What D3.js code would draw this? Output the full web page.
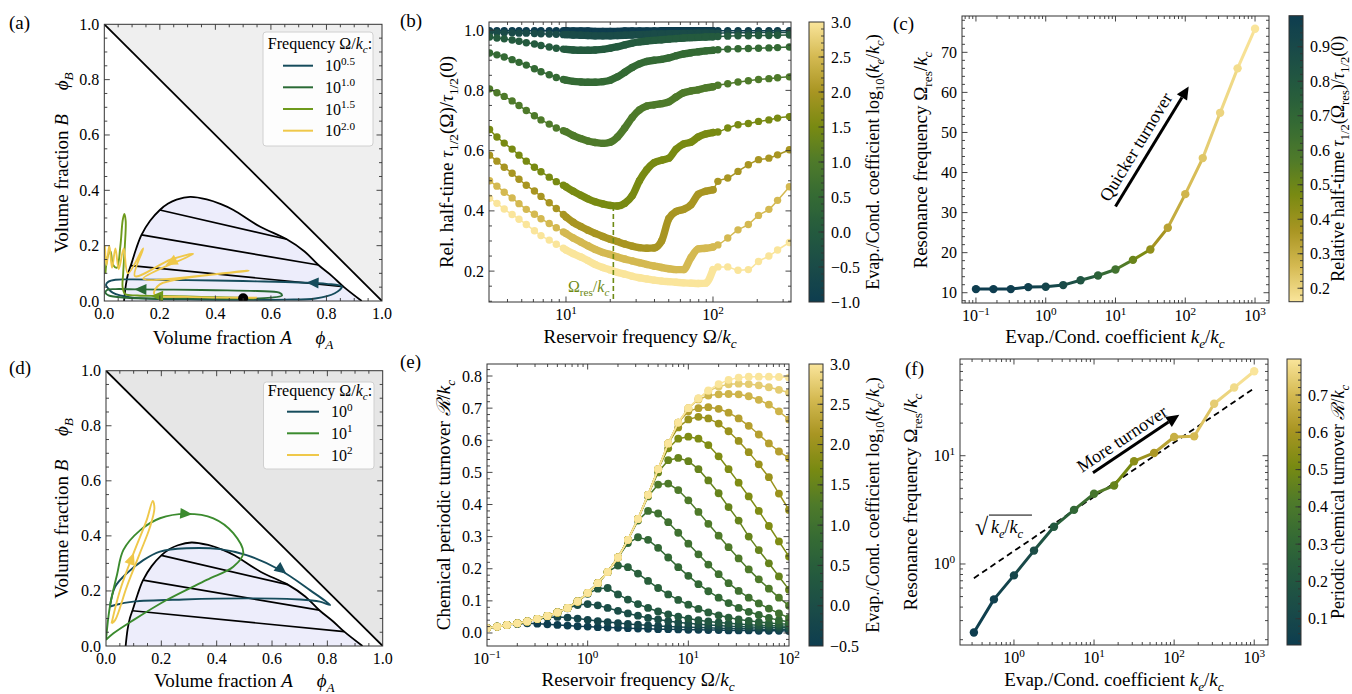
<!DOCTYPE html>
<html>
<head>
<meta charset="utf-8">
<title>Reservoir frequency figure</title>
<script src="https://cdn.jsdelivr.net/npm/d3@7"></script>
<style>
  body { margin: 0; background: #fff; }
  svg { font-family: "Liberation Serif", "Times New Roman", serif; }
</style>
</head>
<body>
<svg id="fig" width="1352" height="694"></svg>
<script>
// ---------------- data ----------------

// (a), (d): phase diagram (volume fractions phiA, phiB)
const binodal = [[0.071,0],[0.078,0.06],[0.086,0.1],[0.098,0.136],[0.115,0.19],[0.134,0.239],[0.165,0.29],[0.2,0.329],[0.23,0.352],[0.26,0.366],[0.309,0.376],[0.369,0.367],[0.42,0.35],[0.465,0.329],[0.56,0.269],[0.657,0.223],[0.72,0.18],[0.771,0.13],[0.82,0.09],[0.861,0.052],[0.927,0]];
const tieLines = [[[0.2,0.329],[0.657,0.223]],[[0.134,0.239],[0.771,0.13]],[[0.096,0.128],[0.861,0.052]]];

const trajAExp = ['0.5', '1.0', '1.5', '2.0'];
const trajAColors = ['#164c5c', '#2a6b35', '#6e9a1c', '#efc84a'];
const trajA = [
  [[0.5,0.004],[0.65,0.005],[0.76,0.009],[0.83,0.028],[0.855,0.052],[0.8,0.062],[0.7,0.067],[0.55,0.071],[0.4,0.074],[0.25,0.076],[0.1,0.078],[0.04,0.077],[0.015,0.07],[0.006,0.058],[0.012,0.048],[0.03,0.03],[0.1,0.012],[0.3,0.006],[0.5,0.004]],
  [[0.5,0.008],[0.6,0.012],[0.64,0.02],[0.63,0.03],[0.55,0.036],[0.4,0.039],[0.25,0.041],[0.12,0.042],[0.04,0.043],[0.01,0.04],[0.004,0.03],[0.015,0.02],[0.08,0.012],[0.3,0.009],[0.5,0.008]],
  [[0.004,0.1],[0.012,0.16],[0.022,0.18],[0.032,0.13],[0.045,0.12],[0.058,0.2],[0.066,0.29],[0.072,0.315],[0.077,0.29],[0.074,0.2],[0.068,0.1],[0.066,0.05],[0.075,0.025],[0.12,0.02],[0.2,0.018],[0.35,0.015],[0.5,0.012],[0.54,0.01]],
  [[0.002,0.2],[0.008,0.13],[0.018,0.2],[0.028,0.12],[0.04,0.19],[0.052,0.115],[0.07,0.19],[0.085,0.1],[0.14,0.19],[0.11,0.09],[0.24,0.15],[0.32,0.17],[0.14,0.08],[0.52,0.11],[0.2,0.06],[0.18,0.025],[0.3,0.015],[0.55,0.012]]
];
const arrowsA = [
  { c: 0, at: [0.75, 0.066], to: [0.70, 0.068] },
  { c: 1, at: [0.13, 0.042], to: [0.08, 0.043] },
  { c: 2, at: [0.19, 0.018], to: [0.14, 0.019] },
  { c: 3, at: [0.24, 0.14], to: [0.19, 0.115] }
];
const dotA = [0.5, 0.01];

const trajDExp = ['0', '1', '2'];
const trajDColors = ['#164c5c', '#3b8b2e', '#efc84a'];
const trajD = [
  [[0.014,0.143],[0.033,0.215],[0.075,0.264],[0.135,0.312],[0.195,0.343],[0.29,0.355],[0.412,0.352],[0.508,0.33],[0.629,0.276],[0.737,0.203],[0.81,0.149],[0.773,0.161],[0.701,0.169],[0.52,0.173],[0.28,0.169],[0.099,0.161],[0.033,0.149],[0.014,0.143]],
  [[0.0,0.022],[0.014,0.143],[0.04,0.26],[0.063,0.349],[0.123,0.42],[0.195,0.464],[0.29,0.48],[0.388,0.464],[0.46,0.41],[0.496,0.337],[0.46,0.288],[0.364,0.24],[0.219,0.167],[0.099,0.094],[0.027,0.046],[0.0,0.022]],
  [[0.02,0.082],[0.05,0.2],[0.1,0.338],[0.147,0.457],[0.169,0.527],[0.175,0.5],[0.159,0.432],[0.123,0.338],[0.075,0.215],[0.033,0.094],[0.02,0.082]]
];
const arrowsD = [
  { c: 0, at: [0.635, 0.276], to: [0.70, 0.225] },
  { c: 1, at: [0.29, 0.48], to: [0.35, 0.475] },
  { c: 2, at: [0.093, 0.318], to: [0.112, 0.37] }
];

// (b): relative half-time vs reservoir frequency, one series per log10(ke/kc)
const bFreq = [3.02,3.39,3.8,4.3,4.79,5.37,6.1,6.76,7.69,8.59,9.6,
  10,11.2,12.6,14.1,15.8,17.8,20,22.4,25.1,28.2,31.6,35.5,39.8,44.7,50.1,56.2,63.1,70.8,79.4,89.1,100,
  108,126,148,174,204,240,275,331];
const bKe = [-1, -0.5, 0, 0.5, 1, 1.5, 2, 2.5, 3];
const bTau = [
  [.998,.998,.998,.998,.998,.998,.998,.998,.998,.998,.998, .998,.997,.997,.997,.996,.996,.996,.996,.997,.997,.997,.997,.997,.998,.998,.998,.998,.998,.998,.998,.998, .998,.998,.998,.998,.998,.998,.998,.998],
  [.992,.992,.991,.991,.99,.99,.989,.988,.987,.986,.985, .985,.984,.983,.982,.981,.981,.981,.982,.983,.984,.985,.986,.987,.987,.988,.988,.989,.989,.99,.99,.99, .99,.991,.991,.991,.992,.992,.992,.993],
  [.977,.974,.971,.967,.963,.958,.954,.949,.944,.94,.937, .936,.934,.933,.933,.934,.936,.94,.945,.951,.957,.961,.964,.966,.968,.97,.972,.974,.975,.976,.977,.978, .979,.98,.981,.981,.982,.982,.983,.984],
  [.924,.918,.911,.902,.893,.884,.872,.862,.852,.843,.836, .834,.83,.828,.827,.827,.829,.834,.845,.86,.876,.888,.896,.9,.903,.908,.915,.921,.925,.928,.931,.933, .935,.937,.938,.939,.94,.941,.942,.944],
  [.805,.792,.78,.765,.75,.733,.716,.702,.688,.675,.666, .663,.65,.64,.632,.627,.624,.628,.645,.675,.71,.735,.748,.752,.756,.762,.778,.792,.798,.802,.808,.812, .817,.822,.828,.832,.836,.839,.842,.845],
  [.67,.645,.625,.605,.585,.565,.545,.53,.512,.497,.485, .48,.465,.452,.44,.43,.423,.418,.416,.425,.45,.5,.537,.56,.568,.575,.605,.622,.628,.645,.655,.66, .662,.675,.686,.69,.697,.702,.708,.713],
  [.585,.565,.545,.525,.505,.485,.466,.448,.427,.408,.388, .38,.362,.348,.336,.325,.315,.306,.298,.29,.283,.278,.276,.277,.3,.375,.398,.405,.42,.455,.465,.47, .498,.509,.531,.553,.57,.575,.586,.603],
  [.5,.482,.462,.443,.424,.405,.389,.374,.358,.344,.33, .325,.31,.297,.284,.272,.262,.255,.247,.24,.234,.228,.222,.217,.212,.208,.205,.205,.245,.274,.276,.28, .287,.31,.337,.355,.385,.405,.435,.48],
  [.442,.425,.406,.388,.372,.355,.334,.318,.303,.289,.276, .27,.258,.247,.235,.222,.212,.204,.196,.19,.183,.178,.174,.17,.167,.165,.163,.161,.16,.159,.16,.205, .214,.214,.203,.205,.232,.25,.27,.295]
];
const bRes = { freq: 21, tau: 0.416 };

// (c): resonance frequency vs evaporation/condensation coefficient
const cKe = [0.1,0.178,0.316,0.562,1,1.78,3.16,5.62,10,17.8,31.6,56.2,100,178,316,562,1000];
const cRes = [10.9,10.9,10.9,11.4,11.5,11.9,13.1,14.3,15.8,18.2,20.8,26.2,34.6,43.6,54.9,66.0,75.9];
const cTau = [0.995,0.99,0.985,0.97,0.934,0.89,0.826,0.73,0.624,0.51,0.416,0.33,0.275,0.235,0.2,0.18,0.159];

// (e): chemical periodic turnover vs reservoir frequency
const eFreq = [0.1,0.126,0.158,0.2,0.251,0.316,0.398,0.501,0.631,0.794,1,1.26,1.58,2,2.51,3.16,3.98,5.01,6.31,7.94,10,12.6,15.8,20,25.1,31.6,39.8,50.1,63.1,79.4,100];
const eKe = [-0.5,-0.25,0,0.25,0.5,0.75,1,1.25,1.5,1.75,2,2.25,2.5,2.75,3];
const eTurn = [
  [.015,.02,.025,.028,.03,.029,.027,.025,.023,.021,.02,.018,.017,.016,.015,.014,.013,.012,.012,.011,.01,.01,.009,.009,.008,.008,.008,.007,.007,.007,.006],
  [.015,.02,.025,.03,.036,.043,.048,.05,.048,.045,.041,.037,.034,.031,.028,.026,.024,.022,.02,.019,.018,.017,.016,.015,.014,.013,.013,.012,.012,.011,.011],
  [.015,.02,.025,.03,.036,.044,.053,.064,.077,.087,.09,.086,.078,.069,.061,.054,.047,.042,.037,.033,.03,.027,.025,.023,.021,.02,.019,.018,.017,.016,.016],
  [.015,.02,.025,.03,.036,.044,.053,.064,.078,.098,.122,.138,.14,.12,.104,.09,.078,.067,.058,.051,.045,.04,.036,.033,.03,.028,.026,.024,.023,.022,.021],
  [.015,.02,.025,.03,.036,.044,.053,.064,.078,.098,.125,.155,.19,.21,.205,.185,.162,.14,.12,.103,.088,.075,.064,.055,.048,.042,.038,.034,.031,.029,.027],
  [.015,.02,.025,.03,.036,.044,.053,.064,.078,.098,.125,.155,.19,.235,.28,.298,.29,.265,.235,.205,.178,.152,.13,.11,.093,.078,.066,.056,.047,.04,.035],
  [.015,.02,.025,.03,.036,.044,.053,.064,.078,.098,.125,.155,.19,.235,.29,.35,.38,.372,.345,.312,.278,.245,.213,.183,.155,.131,.11,.092,.076,.061,.047],
  [.015,.02,.025,.03,.036,.044,.053,.064,.078,.098,.125,.155,.19,.235,.29,.355,.425,.462,.465,.445,.413,.377,.34,.303,.267,.232,.198,.167,.138,.11,.085],
  [.015,.02,.025,.03,.036,.044,.053,.064,.078,.098,.125,.155,.19,.235,.29,.355,.43,.5,.538,.545,.535,.51,.475,.435,.392,.35,.3,.258,.217,.176,.135],
  [.015,.02,.025,.03,.036,.044,.053,.064,.078,.098,.125,.155,.19,.235,.29,.355,.43,.51,.575,.605,.611,.605,.585,.55,.51,.468,.425,.38,.333,.285,.238],
  [.015,.02,.025,.03,.036,.044,.053,.064,.078,.098,.125,.155,.19,.235,.29,.355,.43,.51,.59,.64,.665,.673,.668,.652,.628,.598,.563,.525,.485,.434,.383],
  [.015,.02,.025,.03,.036,.044,.053,.064,.078,.098,.125,.155,.19,.235,.29,.355,.43,.51,.59,.655,.69,.7,.703,.698,.686,.668,.645,.618,.59,.565,.544],
  [.015,.02,.025,.03,.036,.044,.053,.064,.078,.098,.125,.155,.19,.235,.29,.355,.43,.51,.59,.655,.7,.727,.739,.743,.744,.743,.737,.726,.711,.69,.665],
  [.015,.02,.025,.03,.036,.044,.053,.064,.078,.098,.125,.155,.19,.235,.29,.355,.43,.51,.59,.655,.7,.73,.753,.767,.774,.776,.775,.771,.765,.757,.748],
  [.015,.02,.025,.03,.036,.044,.053,.064,.078,.098,.125,.155,.19,.235,.29,.355,.43,.51,.59,.655,.7,.73,.755,.775,.788,.795,.798,.798,.798,.797,.795]
];

// (f): resonance frequency (log-log) coloured by peak turnover
const fKe = [0.316,0.562,1,1.78,3.16,5.62,10,17.8,31.6,56.2,100,178,316,562,1000];
const fRes = [0.233,0.471,0.785,1.33,2.21,3.16,4.45,5.3,8.9,10.6,14.9,15.1,30.2,42.6,60.3];
const fTurn = [0.03,0.05,0.09,0.14,0.213,0.3,0.383,0.467,0.545,0.611,0.673,0.703,0.743,0.775,0.797];
const fSqrt = [[0.316, 0.74], [1000, 42]];

// ---------------- helpers ----------------
const svg = d3.select('#fig');
const defs = svg.append('defs');

const cmapStops = ['#0e3d4f','#1a4b48','#245a3e','#346a34','#4e7a2a','#788a12','#a89522','#d4b951','#fae59b'];
const cmap = d3.scaleLinear()
  .domain(cmapStops.map((_, i) => i / (cmapStops.length - 1)))
  .range(cmapStops).interpolate(d3.interpolateRgb).clamp(true);

// text with italic / sub / sup pieces: parts = ['txt', ['x','i'], ['c','i_'], ['2','^']]
function rich(t, parts, fs) {
  let cur = 0;
  parts.forEach(p => {
    const s = typeof p === 'string' ? p : p[0];
    const st = typeof p === 'string' ? '' : p[1];
    const ts = t.append('tspan').text(s);
    let shift = 0;
    if (st.includes('_')) shift = 0.26 * fs;
    if (st.includes('^')) shift = -0.4 * fs;
    if (shift !== 0) ts.attr('font-size', 0.7 * fs);
    if (st.includes('i')) ts.attr('font-style', 'italic');
    if (shift !== cur) ts.attr('dy', shift - cur);
    cur = shift;
  });
  return t;
}
function label(g, x, y, parts, fs, anchor = 'middle', rot = 0, fill = '#000') {
  const t = g.append('text').attr('font-size', fs).attr('text-anchor', anchor).attr('fill', fill);
  if (rot) t.attr('transform', `translate(${x},${y}) rotate(${rot})`);
  else t.attr('x', x).attr('y', y);
  return rich(t, parts, fs);
}

const linTicks = (lo, hi, step) => d3.range(Math.round(lo / step), Math.round(hi / step) + 1).map(k => +(k * step).toFixed(6));
const minorOf = (all, major) => all.filter(v => !major.some(m => Math.abs(m - v) < 1e-9));
const logMinor = (lo, hi) => {
  const out = [];
  for (let p = Math.floor(Math.log10(lo)); p <= Math.ceil(Math.log10(hi)); p++)
    for (let k = 2; k <= 9; k++) { const v = k * Math.pow(10, p); if (v >= lo && v <= hi) out.push(v); }
  return out;
};
const fmt1 = v => [d3.format('.1f')(v)];
const fmtInt = v => [String(v)];
const fmtPow = v => ['10', [String(Math.round(Math.log10(v))).replace('-', '\u2212'), '^']];

function frame(g, xs, ys, o) {
  const [xa, xb] = xs.range();
  const [ya, yb] = ys.range();
  const t = g.append('g').attr('stroke', '#333').attr('stroke-width', 0.9);
  const xIn = v => xs(v) > xa + 0.5 && xs(v) < xb - 0.5;
  const yIn = v => ys(v) < ya - 0.5 && ys(v) > yb + 0.5;
  const xt = (vals, L) => vals.filter(xIn).forEach(v => {
    const p = xs(v);
    t.append('line').attr('x1', p).attr('x2', p).attr('y1', ya).attr('y2', ya - L);
    t.append('line').attr('x1', p).attr('x2', p).attr('y1', yb).attr('y2', yb + L);
  });
  const yt = (vals, L) => vals.filter(yIn).forEach(v => {
    const p = ys(v);
    t.append('line').attr('y1', p).attr('y2', p).attr('x1', xa).attr('x2', xa + L);
    t.append('line').attr('y1', p).attr('y2', p).attr('x1', xb).attr('x2', xb - L);
  });
  xt(o.xMajor, 5.5); xt(o.xMinor, 3);
  yt(o.yMajor, 5.5); yt(o.yMinor, 3);
  g.append('rect').attr('x', xa).attr('y', yb).attr('width', xb - xa).attr('height', ya - yb)
    .attr('fill', 'none').attr('stroke', '#333').attr('stroke-width', 1);
  o.xMajor.filter(v => xs(v) >= xa - 1 && xs(v) <= xb + 1)
    .forEach(v => label(g, xs(v), ya + 18, o.xFmt(v), 16));
  o.yMajor.filter(v => ys(v) <= ya + 1 && ys(v) >= yb - 1)
    .forEach(v => label(g, xa - 5, ys(v) + 5.5, o.yFmt(v), 16, 'end'));
}

function clipTo(id, xs, ys) {
  const [xa, xb] = xs.range(), [ya, yb] = ys.range();
  defs.append('clipPath').attr('id', id).append('rect')
    .attr('x', xa).attr('y', yb).attr('width', xb - xa).attr('height', ya - yb);
  return `url(#${id})`;
}

function colorbar(o) {
  const g = svg.append('g');
  const ys = d3.scaleLinear().domain(o.dom).range([o.y1, o.y0]);
  const grad = defs.append('linearGradient').attr('id', o.id)
    .attr('x1', 0).attr('y1', 1).attr('x2', 0).attr('y2', 0);
  d3.range(0, 41).forEach(k => {
    const t = k / 40;
    grad.append('stop').attr('offset', t).attr('stop-color', o.col(o.dom[0] + t * (o.dom[1] - o.dom[0])));
  });
  g.append('rect').attr('x', o.x).attr('y', o.y0).attr('width', o.w).attr('height', o.y1 - o.y0)
    .attr('fill', `url(#${o.id})`).attr('stroke', '#333').attr('stroke-width', 1);
  const xr = o.x + o.w;
  const tk = g.append('g').attr('stroke', '#333').attr('stroke-width', 0.9);
  const inside = v => ys(v) > o.y0 + 0.5 && ys(v) < o.y1 - 0.5;
  o.minor.filter(inside).forEach(v => tk.append('line').attr('x1', xr).attr('x2', xr - 3).attr('y1', ys(v)).attr('y2', ys(v)));
  o.major.filter(inside).forEach(v => tk.append('line').attr('x1', xr).attr('x2', xr - 5.5).attr('y1', ys(v)).attr('y2', ys(v)));
  o.major.forEach(v => label(g, xr + 7, ys(v) + 5.5, o.fmt(v), 16, 'start'));
  label(g, o.labX, (o.y0 + o.y1) / 2, o.labParts, 18, 'middle', -90);
}

function arrowHead(g, p, q, color, L = 12, Wd = 5.5) {
  const dx = q[0] - p[0], dy = q[1] - p[1], n = Math.hypot(dx, dy);
  const ux = dx / n, uy = dy / n;
  const tip = [p[0] + ux * L / 2, p[1] + uy * L / 2];
  const b = [p[0] - ux * L / 2, p[1] - uy * L / 2];
  g.append('path').attr('fill', color)
    .attr('d', `M${tip}L${b[0] - uy * Wd},${b[1] + ux * Wd}L${b[0] + uy * Wd},${b[1] - ux * Wd}Z`);
}

function panelLetter(x, y, s) {
  svg.append('text').attr('x', x).attr('y', y).attr('font-size', 19).text(s);
}

// ---------------- (a) and (d): phase diagrams ----------------
function phasePanel(o) {
  const g = svg.append('g');
  const xs = d3.scaleLinear().domain([0, 1]).range(o.xr);
  const ys = d3.scaleLinear().domain([0, 1]).range(o.yr);
  const c = g.append('g').attr('clip-path', clipTo(o.id, xs, ys));
  const ln = d3.line().x(d => xs(d[0])).y(d => ys(d[1]));
  c.append('path').attr('d', ln([[0, 1], [1, 1], [1, 0]]) + 'Z').attr('fill', o.gray);
  const bl = d3.line().x(d => xs(d[0])).y(d => ys(d[1])).curve(d3.curveCatmullRom.alpha(0.5));
  c.append('path').attr('d', bl(binodal) + 'Z').attr('fill', '#ededfb');
  tieLines.forEach(t => c.append('path').attr('d', ln(t)).attr('stroke', '#000').attr('stroke-width', 1.7));
  c.append('path').attr('d', bl(binodal)).attr('fill', 'none').attr('stroke', '#000').attr('stroke-width', 1.8);
  c.append('path').attr('d', ln([[0, 1], [1, 0]])).attr('stroke', '#000').attr('stroke-width', 1.8);
  const tl = d3.line().x(d => xs(d[0])).y(d => ys(d[1])).curve(d3.curveCatmullRom.alpha(0.5));
  o.traj.forEach((tr, i) => c.append('path').attr('d', tl(tr)).attr('fill', 'none')
    .attr('stroke', o.colors[i]).attr('stroke-width', 1.9));
  o.arrows.forEach(a => arrowHead(c, [xs(a.at[0]), ys(a.at[1])], [xs(a.to[0]), ys(a.to[1])], o.colors[a.c]));
  if (o.dot) c.append('circle').attr('cx', xs(o.dot[0])).attr('cy', ys(o.dot[1])).attr('r', 5).attr('fill', '#000');

  const maj = linTicks(0, 1, 0.2);
  const mino = minorOf(linTicks(0, 1, 0.05), maj);
  frame(g, xs, ys, { xMajor: maj, xMinor: mino, yMajor: maj, yMinor: mino, xFmt: fmt1, yFmt: fmt1 });

  // legend
  const L = o.legend;
  g.append('rect').attr('x', L.box[0]).attr('y', L.box[1]).attr('width', L.box[2]).attr('height', L.box[3])
    .attr('rx', 3).attr('fill', 'rgba(255,255,255,0.85)').attr('stroke', '#d0d0d0');
  label(g, L.titleX, L.titleY, ['Frequency \u03a9/', ['k', 'i'], ['c', 'i_'], ':'], 16);
  o.exps.forEach((e, i) => {
    const y = L.rows[i];
    g.append('line').attr('x1', L.lineX[0]).attr('x2', L.lineX[1]).attr('y1', y).attr('y2', y)
      .attr('stroke', o.colors[i]).attr('stroke-width', 2);
    label(g, L.textX, y + 5.5, ['10', [e, '^']], 16, 'start');
  });

  const xm = (o.xr[0] + o.xr[1]) / 2, ymid = (o.yr[0] + o.yr[1]) / 2;
  label(g, xm, o.xlabY, ['Volume fraction ', ['A', 'i'], '\u2003 ', ['\u03d5', 'i'], ['A', 'i_']], 19);
  label(g, 68, ymid, ['Volume fraction ', ['B', 'i'], '\u2003 ', ['\u03d5', 'i'], ['B', 'i_']], 19, 'middle', -90);
}

phasePanel({
  id: 'clipA', xr: [104.3, 382], yr: [301, 24.3], gray: '#efefef',
  traj: trajA, colors: trajAColors, arrows: arrowsA, dot: dotA, exps: trajAExp, xlabY: 344,
  legend: { box: [263, 32, 110, 114], titleX: 320, titleY: 49, rows: [65.7, 87.3, 109, 130.7], lineX: [283, 313], textX: 325 }
});
phasePanel({
  id: 'clipD', xr: [106, 382.7], yr: [646, 370.7], gray: '#e6e6e6',
  traj: trajD, colors: trajDColors, arrows: arrowsD, dot: null, exps: trajDExp, xlabY: 687,
  legend: { box: [263.5, 382, 110.5, 87], titleX: 320, titleY: 396, rows: [411.7, 433.3, 455], lineX: [287, 319], textX: 331 }
});

// ---------------- (b) ----------------
{
  const g = svg.append('g');
  const xs = d3.scaleLog().domain([2.994, 339.4]).range([489, 791]);
  const ys = d3.scaleLinear().domain([0.0975, 1.027]).range([302, 22]);
  const col = k => cmap((k + 1) / 4);
  const c = g.append('g').attr('clip-path', clipTo('clipB', xs, ys));
  const ln = d3.line().x(d => xs(d[0])).y(d => ys(d[1])).curve(d3.curveMonotoneX);
  bTau.forEach((vals, i) => {
    const cl = col(bKe[i]);
    const pts = bFreq.map((f, j) => [f, vals[j]]);
    c.append('path').attr('d', ln(pts.filter(d => d[0] >= 10 && d[0] <= 100)))
      .attr('fill', 'none').attr('stroke', cl).attr('stroke-width', 7.4).attr('stroke-linecap', 'round');
    c.append('path').attr('d', ln(pts)).attr('fill', 'none').attr('stroke', cl).attr('stroke-width', 1.5);
    c.append('g').selectAll('circle').data(pts).join('circle')
      .attr('cx', d => xs(d[0])).attr('cy', d => ys(d[1])).attr('r', 3.7).attr('fill', cl);
  });
  c.append('line').attr('x1', xs(bRes.freq)).attr('x2', xs(bRes.freq))
    .attr('y1', ys(bRes.tau)).attr('y2', ys(0.0975))
    .attr('stroke', '#6e8a14').attr('stroke-width', 1.6).attr('stroke-dasharray', '5,3');
  label(g, xs(bRes.freq) - 4, 292, ['\u03a9', ['res', '_'], '/', ['k', 'i'], ['c', 'i_']], 16, 'end', 0, '#6e8a14');

  frame(g, xs, ys, {
    xMajor: [10, 100], xMinor: logMinor(3, 339), yMajor: linTicks(0.2, 1.0, 0.2),
    yMinor: minorOf(linTicks(0.1, 1.0, 0.05), linTicks(0.2, 1.0, 0.2)), xFmt: fmtPow, yFmt: fmt1
  });
  label(g, 640, 343, ['Reservoir frequency \u03a9/', ['k', 'i'], ['c', 'i_']], 19);
  label(g, 453, 162, ['Rel. half-time ', ['\u03c4', 'i'], ['1/2', '_'], '(\u03a9)/', ['\u03c4', 'i'], ['1/2', '_'], '(0)'], 19, 'middle', -90);

  colorbar({
    id: 'cbB', x: 809, w: 15, y0: 22, y1: 302, dom: [-1, 3], col: v => col(v),
    major: linTicks(-1, 3, 0.5), minor: linTicks(-1, 3, 0.1), fmt: fmt1, labX: 879,
    labParts: ['Evap./Cond. coefficient log', ['10', '_'], '(', ['k', 'i'], ['e', 'i_'], '/', ['k', 'i'], ['c', 'i_'], ')']
  });
}

// ---------------- (c) ----------------
{
  const g = svg.append('g');
  const xs = d3.scaleLog().domain([0.0631, 1585]).range([962, 1269]);
  const ys = d3.scaleLinear().domain([7.43, 79.07]).range([303, 16]);
  const col = v => cmap(1 - (v - 0.161) / (0.99 - 0.161));
  const c = g.append('g').attr('clip-path', clipTo('clipC', xs, ys));
  const pts = cKe.map((k, i) => [k, cRes[i], cTau[i]]);
  d3.pairs(pts).forEach(([p, q]) => c.append('line')
    .attr('x1', xs(p[0])).attr('y1', ys(p[1])).attr('x2', xs(q[0])).attr('y2', ys(q[1]))
    .attr('stroke', col((p[2] + q[2]) / 2)).attr('stroke-width', 3).attr('stroke-linecap', 'round'));
  c.append('g').selectAll('circle').data(pts).join('circle')
    .attr('cx', d => xs(d[0])).attr('cy', d => ys(d[1])).attr('r', 4.2).attr('fill', d => col(d[2]));

  // annotation arrow
  const a0 = [xs(10), ys(31.5)], a1 = [xs(112), ys(61.5)];
  const ang = Math.atan2(a1[1] - a0[1], a1[0] - a0[0]);
  const hl = 13, stem = [a1[0] - Math.cos(ang) * hl, a1[1] - Math.sin(ang) * hl];
  g.append('line').attr('x1', a0[0]).attr('y1', a0[1]).attr('x2', stem[0]).attr('y2', stem[1])
    .attr('stroke', '#000').attr('stroke-width', 3);
  arrowHead(g, [a1[0] - Math.cos(ang) * hl / 2, a1[1] - Math.sin(ang) * hl / 2], a1, '#000', hl, 6);
  const tc = [xs(19.6), ys(46.4)];
  label(g, tc[0], tc[1], ['Quicker turnover'], 18, 'middle', ang * 180 / Math.PI).attr('dy', 6);

  frame(g, xs, ys, {
    xMajor: [0.1, 1, 10, 100, 1000], xMinor: logMinor(0.0631, 1585),
    yMajor: linTicks(10, 70, 10), yMinor: minorOf(linTicks(8, 78, 2), linTicks(10, 70, 10)), xFmt: fmtPow, yFmt: fmtInt
  });
  label(g, 1115, 343, ['Evap./Cond. coefficient ', ['k', 'i'], ['e', 'i_'], '/', ['k', 'i'], ['c', 'i_']], 19);
  label(g, 927, 160, ['Resonance frequency \u03a9', ['res', '_'], '/', ['k', 'i'], ['c', 'i_']], 19, 'middle', -90);

  colorbar({
    id: 'cbC', x: 1289, w: 14, y0: 15.7, y1: 301.7, dom: [0.161, 0.99], col: col,
    major: linTicks(0.2, 0.9, 0.1), minor: linTicks(0.18, 0.98, 0.02), fmt: fmt1, labX: 1344,
    labParts: ['Relative half-time ', ['\u03c4', 'i'], ['1/2', '_'], '(\u03a9', ['res', '_'], ')/', ['\u03c4', 'i'], ['1/2', '_'], '(0)']
  });
}

// ---------------- (e) ----------------
{
  const g = svg.append('g');
  const xs = d3.scaleLog().domain([0.1, 100]).range([487, 789]);
  const ys = d3.scaleLinear().domain([-0.0405, 0.8374]).range([646, 364]);
  const col = k => cmap((k + 0.5) / 3.5);
  const c = g.append('g').attr('clip-path', clipTo('clipE', xs, ys));
  const ln = d3.line().x(d => xs(d[0])).y(d => ys(d[1]));
  eTurn.forEach((vals, i) => {
    const cl = col(eKe[i]);
    const pts = eFreq.map((f, j) => [f, vals[j]]);
    c.append('path').attr('d', ln(pts)).attr('fill', 'none').attr('stroke', cl).attr('stroke-width', 1.5);
    c.append('g').selectAll('circle').data(pts).join('circle')
      .attr('cx', d => xs(d[0])).attr('cy', d => ys(d[1])).attr('r', 3.9).attr('fill', cl);
  });
  frame(g, xs, ys, {
    xMajor: [0.1, 1, 10, 100], xMinor: logMinor(0.1, 100),
    yMajor: linTicks(0, 0.8, 0.1), yMinor: minorOf(linTicks(-0.04, 0.82, 0.02), linTicks(0, 0.8, 0.1)), xFmt: fmtPow, yFmt: fmt1
  });
  label(g, 638, 686, ['Reservoir frequency \u03a9/', ['k', 'i'], ['c', 'i_']], 19);
  label(g, 450, 505, ['Chemical periodic turnover ', ['\u211b', 'i'], '/', ['k', 'i'], ['c', 'i_']], 19, 'middle', -90);
  colorbar({
    id: 'cbE', x: 809, w: 14, y0: 364, y1: 646, dom: [-0.5, 3], col: v => col(v),
    major: linTicks(-0.5, 3, 0.5), minor: linTicks(-0.5, 3, 0.1), fmt: fmt1, labX: 879,
    labParts: ['Evap./Cond. coefficient log', ['10', '_'], '(', ['k', 'i'], ['e', 'i_'], '/', ['k', 'i'], ['c', 'i_'], ')']
  });
}

// ---------------- (f) ----------------
{
  const g = svg.append('g');
  const xs = d3.scaleLog().domain([0.212, 1486]).range([960, 1268]);
  const ys = d3.scaleLog().domain([0.1786, 78.2]).range([645, 359]);
  const col = v => cmap((v - 0.0295) / (0.7966 - 0.0295));
  const c = g.append('g').attr('clip-path', clipTo('clipF', xs, ys));
  c.append('line').attr('x1', xs(fSqrt[0][0])).attr('y1', ys(fSqrt[0][1]))
    .attr('x2', xs(fSqrt[1][0])).attr('y2', ys(fSqrt[1][1]))
    .attr('stroke', '#000').attr('stroke-width', 1.8).attr('stroke-dasharray', '6,4');
  const pts = fKe.map((k, i) => [k, fRes[i], fTurn[i]]);
  d3.pairs(pts).forEach(([p, q]) => c.append('line')
    .attr('x1', xs(p[0])).attr('y1', ys(p[1])).attr('x2', xs(q[0])).attr('y2', ys(q[1]))
    .attr('stroke', col((p[2] + q[2]) / 2)).attr('stroke-width', 3).attr('stroke-linecap', 'round'));
  c.append('g').selectAll('circle').data(pts).join('circle')
    .attr('cx', d => xs(d[0])).attr('cy', d => ys(d[1])).attr('r', 4.2).attr('fill', d => col(d[2]));

  const a0 = [xs(9.7), ys(6.97)], a1 = [xs(116), ys(23.9)];
  const ang = Math.atan2(a1[1] - a0[1], a1[0] - a0[0]);
  const hl = 13, stem = [a1[0] - Math.cos(ang) * hl, a1[1] - Math.sin(ang) * hl];
  g.append('line').attr('x1', a0[0]).attr('y1', a0[1]).attr('x2', stem[0]).attr('y2', stem[1])
    .attr('stroke', '#000').attr('stroke-width', 3);
  arrowHead(g, [a1[0] - Math.cos(ang) * hl / 2, a1[1] - Math.sin(ang) * hl / 2], a1, '#000', hl, 6);
  label(g, xs(22.4), ys(14.3), ['More turnover'], 18, 'middle', ang * 180 / Math.PI).attr('dy', 6);

  // sqrt(ke/kc) label
  const sp = [xs(0.326), ys(1.93)];
  g.append('text').attr('x', sp[0]).attr('y', sp[1] + 2).attr('font-size', 24).text('\u221a');
  label(g, sp[0] + 16, sp[1], [['k', 'i'], ['e', 'i_'], '/', ['k', 'i'], ['c', 'i_']], 18, 'start');
  g.append('line').attr('x1', sp[0] + 14).attr('x2', sp[0] + 57).attr('y1', sp[1] - 18).attr('y2', sp[1] - 18)
    .attr('stroke', '#000').attr('stroke-width', 1);

  frame(g, xs, ys, {
    xMajor: [1, 10, 100, 1000], xMinor: logMinor(0.212, 1486),
    yMajor: [1, 10], yMinor: logMinor(0.1786, 78.2), xFmt: fmtPow, yFmt: fmtPow
  });
  label(g, 1114, 686, ['Evap./Cond. coefficient ', ['k', 'i'], ['e', 'i_'], '/', ['k', 'i'], ['c', 'i_']], 19);
  label(g, 917, 502, ['Resonance frequency \u03a9', ['res', '_'], '/', ['k', 'i'], ['c', 'i_']], 19, 'middle', -90);
  colorbar({
    id: 'cbF', x: 1287, w: 14, y0: 359, y1: 645, dom: [0.0295, 0.7966], col: col,
    major: linTicks(0.1, 0.7, 0.1), minor: linTicks(0.04, 0.78, 0.02), fmt: fmt1, labX: 1344,
    labParts: ['Periodic chemical turnover ', ['\u211b', 'i'], '/', ['k', 'i'], ['c', 'i_']]
  });
}

panelLetter(9, 29, '(a)');
panelLetter(400, 27, '(b)');
panelLetter(893, 30, '(c)');
panelLetter(9, 374, '(d)');
panelLetter(400, 368, '(e)');
panelLetter(905, 375, '(f)');
</script>
</body>
</html>
